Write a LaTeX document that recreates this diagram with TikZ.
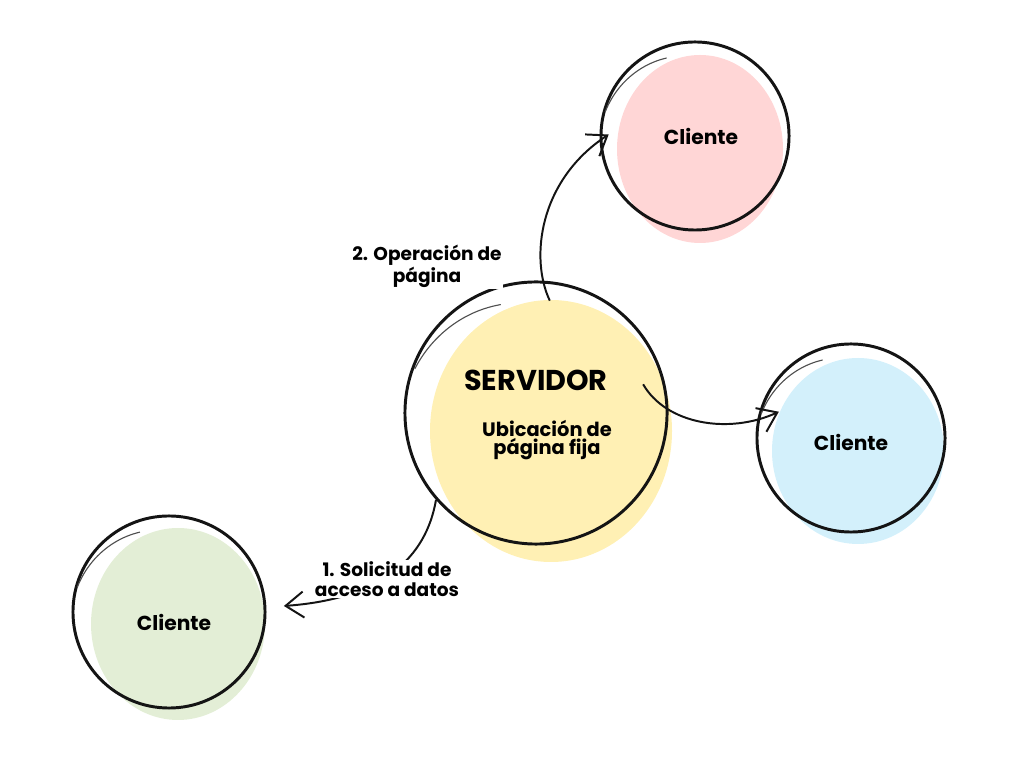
\documentclass[tikz,border=0pt]{standalone}
\usepackage{fontspec}
\setmainfont{Poppins}
\usetikzlibrary{arrows.meta,calc}
\definecolor{tinta}{HTML}{141414}
\definecolor{amarillo}{HTML}{FFF0B4}
\definecolor{rosa}{HTML}{FFD6D6}
\definecolor{celeste}{HTML}{D3F0FB}
\definecolor{verde}{HTML}{E3EED6}
\begin{document}
\begin{tikzpicture}[x=0.025cm, y=0.025cm,
   burbuja/.style={circle, draw=tinta, line width=2.1pt, inner sep=0pt, minimum size=#1*0.05cm},
   cola/.style={draw=tinta!75, line width=0.8pt},
   flecha/.style={draw=tinta, line width=1.4pt, -{Straight Barb[length=4.5mm, width=6.5mm]}},
   texto/.style={font=\bfseries\fontsize{14.4}{14.4}\selectfont, text=black},
   rotulo/.style={font=\bfseries\fontsize{13.2}{14}\selectfont, text=black, align=center, fill=white, inner sep=1pt}]

\useasboundingbox (0,0) rectangle (1024,768);

% manchas de color
\fill[amarillo] (551,337) ellipse [x radius=121, y radius=131];
\fill[rosa] (700,619) ellipse [x radius=83, y radius=94];
\fill[celeste] (858,317) ellipse [x radius=86, y radius=93];
\fill[verde] (178,144) ellipse [x radius=87, y radius=96];

% circulos
\node[burbuja=131] (servidor) at (536,355) {};
\node[burbuja=94] (clienteRosa) at (695,632) {};
\node[burbuja=94] (clienteAzul) at (851,330) {};
\node[burbuja=96] (clienteVerde) at (169,156) {};

\draw[cola, shift={(servidor.center)}] plot[smooth, domain=160:108, samples=25] (\x:{129-15*(160-\x)/52});
\draw[cola, shift={(clienteRosa.center)}] plot[smooth, domain=165:110, samples=25] (\x:{93-10*(165-\x)/55});
\draw[cola, shift={(clienteAzul.center)}] plot[smooth, domain=165:110, samples=25] (\x:{93-10*(165-\x)/55});
\draw[cola, shift={(clienteVerde.center)}] plot[smooth, domain=165:110, samples=25] (\x:{95-10*(165-\x)/55});

% textos
\node[texto, font=\bfseries\fontsize{20.4}{20.4}\selectfont] (titulo) at (536,388) {SERVIDOR};
\node[texto, align=center, font=\bfseries\fontsize{13.8}{13.1}\selectfont] (fija) at (547,328) {Ubicación de\\página fija};
\node[texto] (txtRosa) at (701,632) {Cliente};
\node[texto] (txtAzul) at (851,326) {Cliente};
\node[texto] (txtVerde) at (174,146) {Cliente};

% flechas
\draw[flecha] ($(servidor.83)!0.146!(servidor.center)$) .. controls +(-20,42) and +(-70,-46) .. ($(clienteRosa.179)!0.096!(clienteRosa.center)$);
\draw[flecha] ($(servidor.15)!0.163!(servidor.center)$) .. controls +(23,-40) and +(-50,-23) .. ($(clienteAzul.160)!0.196!(clienteAzul.center)$);
\draw[flecha] (servidor.221) .. controls +(-10,-58) and +(98,7) .. ($(clienteVerde.center)!1.18!(clienteVerde.3)$);

\node[rotulo] (paso2) at (427,502) {2. Operación de\\página};
\node[rotulo] (paso1) at (387,189) {1. Solicitud de\\acceso a datos};

\end{tikzpicture}
\end{document}
